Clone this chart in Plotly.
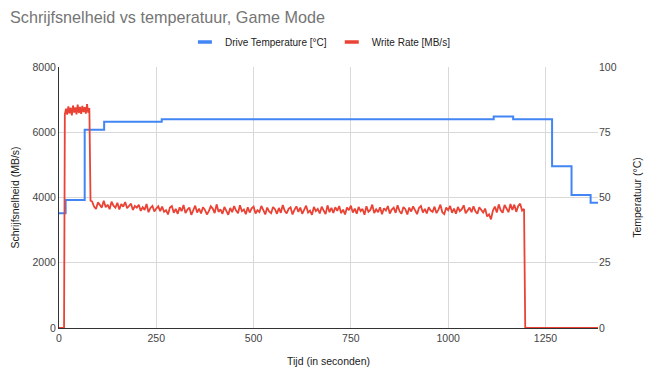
import plotly.graph_objects as go

# ---- Data ----
temp_time = [0, 17, 66, 116, 264, 1117, 1167, 1267, 1317, 1366, 1385]
temp_vals = [44, 49, 76, 79, 80, 81, 80, 62, 51, 48, 48]

rate_head_time = [0, 13, 15, 18, 21, 24, 27, 30, 33, 36, 39, 42, 45, 48, 51, 54,
                  57, 60, 63, 66, 69, 72, 75, 78, 81]
rate_head_vals = [0, 0, 6550, 6720, 6540, 6790, 6580, 6750, 6520, 6820, 6600, 6760,
                  6550, 6850, 6590, 6780, 6560, 6810, 6620, 6770, 6570, 6860, 6600,
                  6740, 3900]

# sampled every 5 s from 85 s to 1190 s
rate_body_vals = [
    3880, 3720, 3650, 3850, 3760, 3690, 3900, 3700, 3780, 3640, 3870, 3750,
    3690, 3840, 3630, 3800, 3720, 3860, 3670, 3750, 3810, 3620, 3740, 3690,
    3780, 3590, 3700, 3620, 3800, 3550, 3680, 3740, 3570, 3660, 3730, 3580,
    3720, 3560, 3610, 3480, 3690, 3740, 3530, 3650, 3500, 3700,
    3580, 3770, 3520, 3630, 3690, 3470, 3600, 3750, 3540, 3660,
    3510, 3700, 3620, 3480, 3580, 3730, 3660, 3520, 3790, 3560,
    3640, 3500, 3710, 3590, 3470, 3680, 3550, 3740, 3600, 3520,
    3760, 3580, 3630, 3490, 3700, 3540, 3670, 3720, 3510, 3610,
    3550, 3740, 3600, 3480, 3690, 3570, 3520, 3710, 3640, 3500,
    3680, 3530, 3770, 3590, 3510, 3650, 3700, 3480, 3620, 3730,
    3560, 3690, 3500, 3640, 3750, 3540, 3600, 3470, 3710, 3580,
    3650, 3510, 3720, 3600, 3490, 3760, 3550, 3680, 3530, 3700,
    3590, 3740, 3520, 3630, 3480, 3690, 3610, 3750, 3540, 3660,
    3500, 3710, 3580, 3650, 3470, 3730, 3560, 3620, 3780, 3520,
    3640, 3550, 3700, 3490, 3670, 3600, 3740, 3510, 3630, 3690,
    3530, 3760, 3580, 3500, 3710, 3640, 3480, 3690, 3570, 3730,
    3610, 3490, 3680, 3740, 3540, 3650, 3510, 3700, 3600, 3560,
    3720, 3520, 3630, 3780, 3550, 3490, 3690, 3610, 3740, 3530,
    3660, 3500, 3710, 3580, 3640, 3760, 3520, 3600, 3690, 3550,
    3730, 3580, 3500, 3700, 3620, 3540, 3660, 3420, 3480, 3330,
    3600, 3720, 3540, 3790, 3610, 3530, 3770, 3680, 3550, 3800,
    3620, 3780, 3560, 3740, 3810, 3600,
]
rate_body_time = list(range(85, 1191, 5))

rate_tail_time = [1195, 1198, 1385]
rate_tail_vals = [3650, 0, 0]

rate_time = rate_head_time + rate_body_time + rate_tail_time
rate_vals = rate_head_vals + rate_body_vals + rate_tail_vals

x_ticks = [0, 250, 500, 750, 1000, 1250]
rate_ticks = [0, 2000, 4000, 6000, 8000]
temp_ticks = [0, 25, 50, 75, 100]

BLUE = "#4285F4"
RED = "#EA4335"
FONT = "Liberation Sans, Arial, sans-serif"

fig = go.Figure()
fig.add_trace(go.Scatter(
    x=temp_time, y=temp_vals, name="Drive Temperature [°C]",
    mode="lines", line=dict(color=BLUE, width=2, shape="hv"),
    yaxis="y", showlegend=False,
))
fig.add_trace(go.Scatter(
    x=rate_time, y=rate_vals, name="Write Rate [MB/s]",
    mode="lines", line=dict(color=RED, width=1.8),
    yaxis="y2", showlegend=False,
))
# legend-only entries with short bar swatches
for name, col in [("Drive Temperature [°C]", BLUE), ("Write Rate [MB/s]", RED)]:
    fig.add_trace(go.Scatter(
        x=[None], y=[None], name=name, mode="markers",
        marker=dict(symbol="line-ew", size=10, line=dict(color=col, width=3.5)),
        showlegend=True,
    ))

fig.update_layout(
    width=656, height=380,
    margin=dict(l=59, r=58, t=67, b=52),
    paper_bgcolor="white", plot_bgcolor="white",
    font=dict(family=FONT, size=10.5, color="#444"),
    title=dict(text="Schrijfsnelheid vs temperatuur, Game Mode",
               x=10 / 656, xref="container", xanchor="left",
               y=1 - 17 / 380, yref="container", yanchor="middle",
               font=dict(family=FONT, size=16.2, color="#757575")),
    showlegend=True,
    legend=dict(orientation="h", x=0.485, xanchor="center", xref="paper",
                y=1 - 42 / 380, yref="container", yanchor="middle",
                font=dict(family=FONT, size=10, color="#222"),
                itemwidth=30, tracegroupgap=0),
    xaxis=dict(range=[0, 1385], tickvals=x_ticks, showgrid=True,
               gridcolor="#d9d9d9", zeroline=False, showline=True,
               linecolor="#333", linewidth=1, ticks="",
               title=dict(text="Tijd (in seconden)", standoff=15,
                          font=dict(size=10.5, color="#222")),
               automargin=False),
    yaxis=dict(range=[0, 100], tickvals=temp_ticks, side="right",
               showgrid=True, gridcolor="#d9d9d9", zeroline=False,
               showline=False, ticks="",
               title=dict(text="Temperatuur (°C)", standoff=17,
                          font=dict(size=10.5, color="#222")),
               automargin=False),
    yaxis2=dict(range=[0, 8000], tickvals=rate_ticks, side="left",
                overlaying="y", anchor="x", showgrid=False, zeroline=False,
                showline=True, linecolor="#333", linewidth=1, ticks="",
                title=dict(text="Schrijfsnelheid (MB/s)", standoff=10,
                           font=dict(size=10.5, color="#222")),
                automargin=False),
)

fig.write_html("out.html")
